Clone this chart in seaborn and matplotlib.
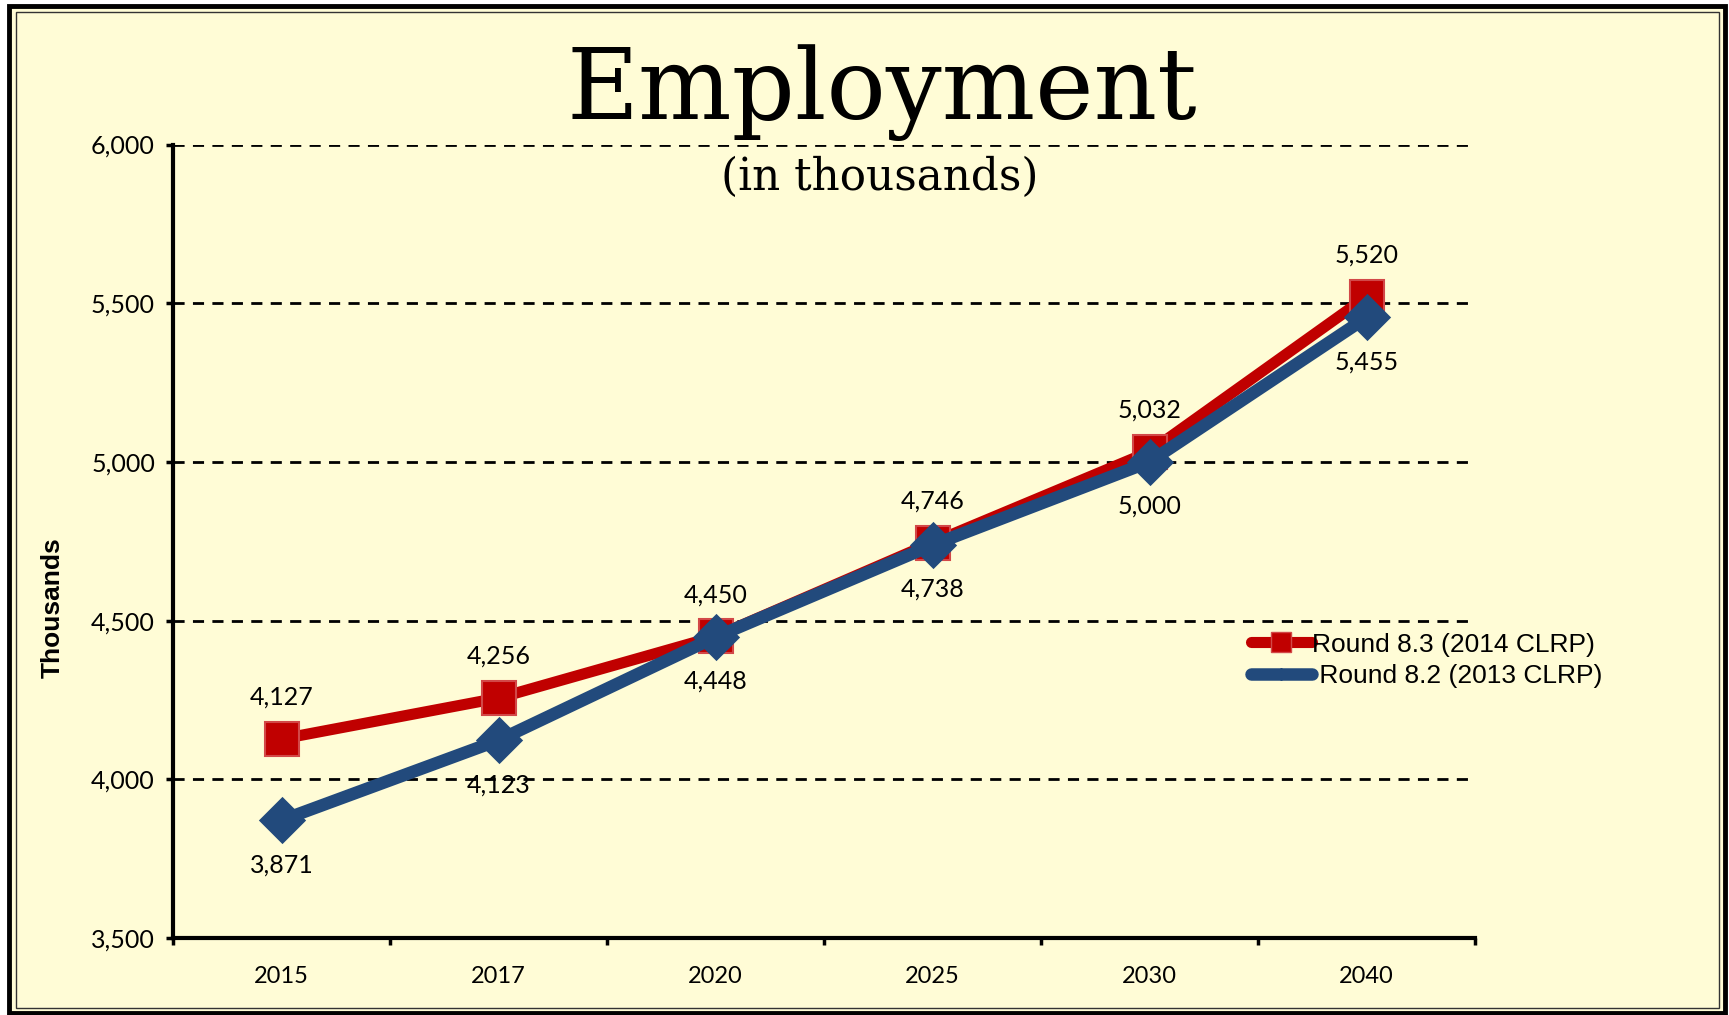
import matplotlib
matplotlib.use("Agg")
import matplotlib.pyplot as plt
from matplotlib.patches import Rectangle
from matplotlib.lines import Line2D
import seaborn as sns
import pandas as pd
import numpy as np

years = ["2015", "2017", "2020", "2025", "2030", "2040"]
round83 = [4127, 4256, 4450, 4746, 5032, 5520]
round82 = [3871, 4123, 4448, 4738, 5000, 5455]
series_names = ["Round 8.3 (2014 CLRP)", " Round 8.2 (2013 CLRP)"]
yticks = [3500, 4000, 4500, 5000, 5500, 6000]

BG = "#FFFCD6"
RED = "#C00000"
BLUE = "#224A7C"

sns.set_theme(style="white")
plt.rcParams["font.family"] = ["Lato", "DejaVu Sans"]
plt.rcParams["text.color"] = "black"
plt.rcParams["xtick.color"] = "black"
plt.rcParams["ytick.color"] = "black"
plt.rcParams["axes.labelcolor"] = "black"

W, H = 1729, 1015
fig = plt.figure(figsize=(W / 100, H / 100), dpi=100, facecolor="white")

# frame
fig.patches.append(Rectangle((9 / W, 2 / H), (W - 13) / W, (H - 8) / H, transform=fig.transFigure,
                             facecolor=BG, edgecolor="black", linewidth=3.5, zorder=-10))
fig.patches.append(Rectangle((16 / W, 7 / H), (W - 26) / W, (H - 19) / H, transform=fig.transFigure,
                             facecolor="none", edgecolor="#333333", linewidth=1.0, zorder=-9))

ax = fig.add_axes([173 / W, 1 - 938 / H, (1475 - 173) / W, (938 - 144.5) / H])
ax.set_facecolor("none")

df83 = pd.DataFrame({"year": years, "value": round83})
df82 = pd.DataFrame({"year": years, "value": round82})

sns.pointplot(data=df83, x="year", y="value", order=years, color=RED, marker="s",
              markersize=24, linewidth=8, errorbar=None, ax=ax)
sns.pointplot(data=df82, x="year", y="value", order=years, color=BLUE, marker="D",
              markersize=17, linewidth=9, errorbar=None, ax=ax)

lines = ax.lines
lines[0].set_markeredgecolor("#D24848")
lines[0].set_markeredgewidth(1.5)
lines[0].set_zorder(3)
lines[1].set_markeredgecolor(BLUE)
lines[1].set_zorder(4)

LBL = 18
# data labels
for i, v in enumerate(round83):
    ax.annotate(f"{v:,}", (i, v), xytext=(0, 30), textcoords="offset points",
                ha="center", va="center", fontsize=LBL, color="black")
for i, v in enumerate(round82):
    ax.annotate(f"{v:,}", (i, v), xytext=(0, -32), textcoords="offset points",
                ha="center", va="center", fontsize=LBL, color="black")

ax.set_xlim(-0.5, len(years) - 0.5)
ax.set_ylim(3500, 6000)
ax.set_yticks(yticks)
ax.set_yticklabels([f"{t:,}" for t in yticks], fontsize=LBL)

ax.set_xticks(np.arange(-0.5, len(years), 1.0))
ax.set_xticklabels([])
ax.set_xticks(np.arange(len(years)), minor=True)
ax.set_xticklabels(years, minor=True, fontsize=17)
ax.tick_params(axis="x", which="major", direction="out", length=5, width=2.5, color="black", bottom=True)
ax.tick_params(axis="x", which="minor", length=0, pad=20)
ax.tick_params(axis="y", direction="out", length=5, width=2.5, color="black", left=True, pad=8)

ax.yaxis.grid(True, linestyle=(0, (4, 3)), color="black", linewidth=2.0)
ax.xaxis.grid(False)
for s in ["top", "right"]:
    ax.spines[s].set_visible(False)
for s in ["left", "bottom"]:
    ax.spines[s].set_color("black")
    ax.spines[s].set_linewidth(3)
ax.set_xlabel("")
ax.set_ylabel("")

fig.text(53 / W, 1 - 608 / H, "Thousands", rotation=90, ha="center", va="center",
         fontsize=19, fontweight="bold", family=["Liberation Sans", "DejaVu Sans"])

fig.text(882 / W, 1 - 119 / H, "Employment", ha="center", va="baseline",
         fontsize=71, family=["DejaVu Serif"])
fig.text(880 / W, 1 - 190 / H, "(in thousands)", ha="center", va="baseline",
         fontsize=31.5, family=["DejaVu Serif"])

handles = [Line2D([], [], color=RED, lw=8, marker="s", markersize=15,
                  markeredgecolor="#D24848", solid_capstyle="round"),
           Line2D([], [], color=BLUE, lw=9, marker="D", markersize=6,
                  solid_capstyle="round")]
leg = ax.legend(handles, series_names, loc="upper left", bbox_to_anchor=(0.828, 0.385),
                frameon=False, handlelength=2.3, handletextpad=0.0,
                labelspacing=0.3, borderpad=0, borderaxespad=0,
                prop={"family": ["Liberation Sans"], "size": 19})

fig.savefig("out.png", dpi=100, facecolor="white")
